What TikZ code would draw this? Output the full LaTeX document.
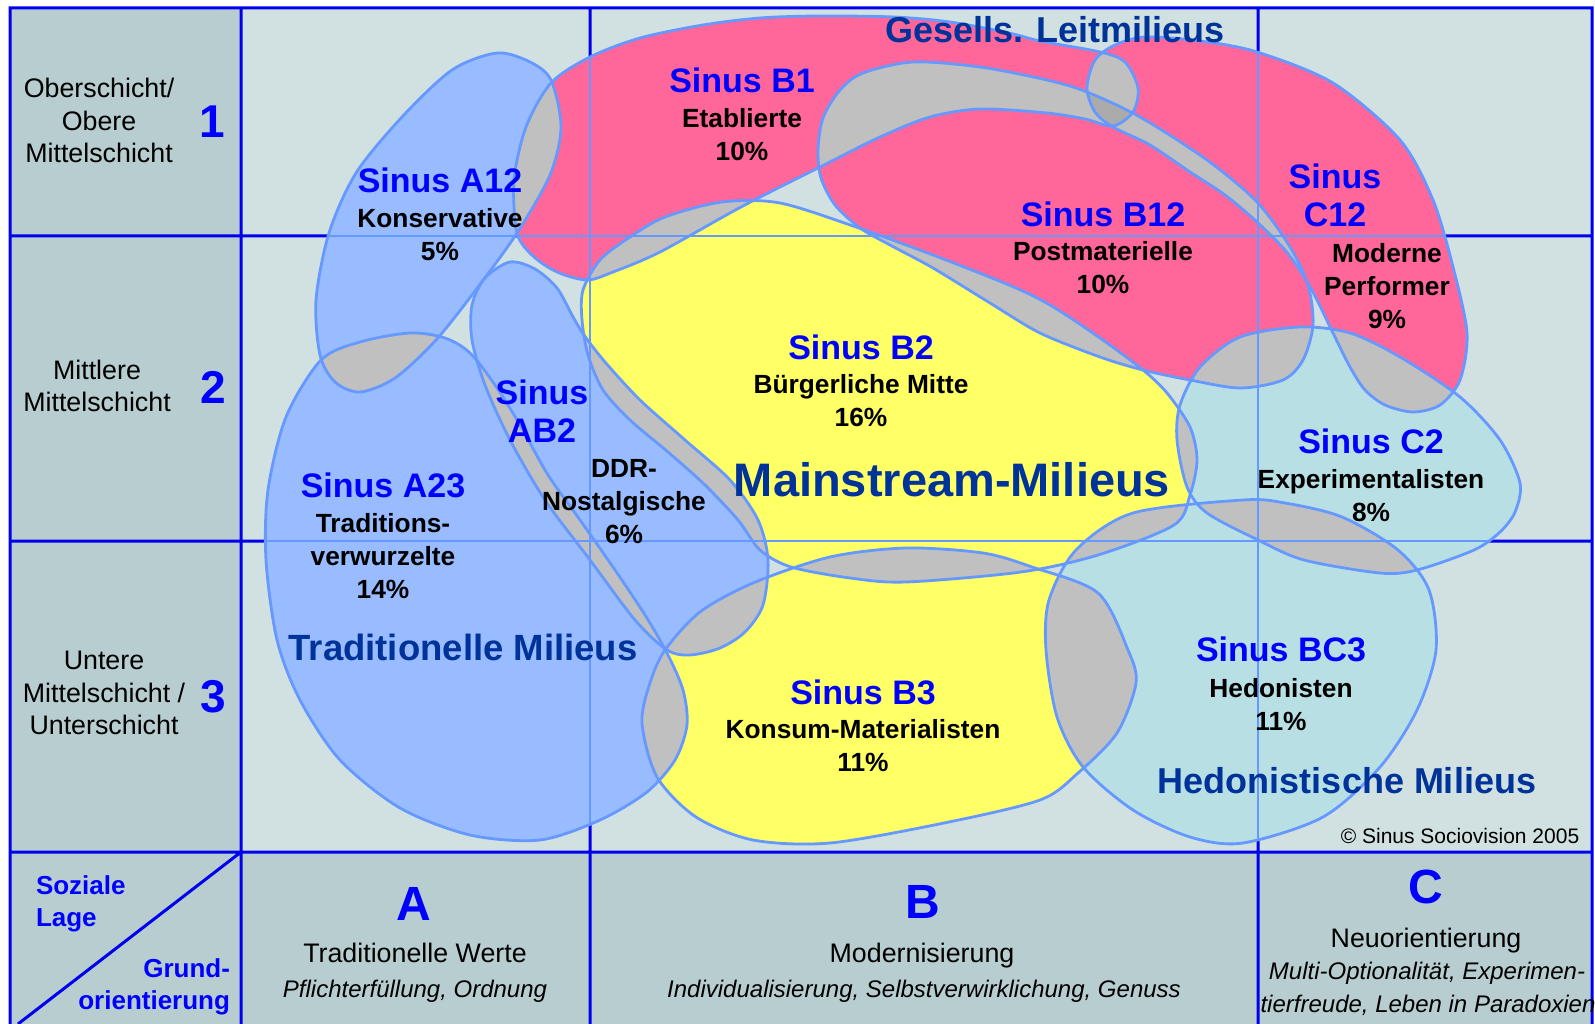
\documentclass[tikz,border=0pt]{standalone}
\usepackage{fontspec}
\setmainfont{Liberation Sans}
\usepackage{xcolor}
\usepackage{tikz}
\usetikzlibrary{positioning}

\definecolor{panelbg}{HTML}{D1E0E0}
\definecolor{sidebg}{HTML}{B8CDD0}
\definecolor{leitpink}{HTML}{FF6699}
\definecolor{tradblue}{HTML}{99BBFF}
\definecolor{mitteyellow}{HTML}{FFFF66}
\definecolor{hedocyan}{HTML}{B8E0E4}
\definecolor{overlapgray}{HTML}{C0C0C0}
\definecolor{tripelgray}{HTML}{ABABAB}
\definecolor{rimblue}{HTML}{6699FF}
\definecolor{ruleblue}{HTML}{0000EE}
\definecolor{sinusblue}{HTML}{0000FF}
\definecolor{groupblue}{HTML}{003399}

\def\pathKons{plot[smooth cycle] coordinates {(497,53) (530,62) (551,80) (561,127) (550,175) (517,233) (478,287) (436,340) (395,378) (360,392) (335,382) (320,355) (316,300) (329,233) (356,173) (402,117) (452,70)}}
\def\pathEtab{plot[smooth cycle] coordinates {(517,233) (533,256) (557,272) (587,280) (613,272) (660,252) (741,207) (818,168) (880,137) (930,117) (980,109) (1047,113) (1085,119) (1113,126) (1133,112) (1138,88) (1125,62) (1100,52) (1040,41) (1009,33) (950,22) (894,17) (818,16) (760,18) (703,25) (640,38) (590,57) (551,83) (526,127) (514,180)}}
\def\pathPerf{plot[smooth cycle] coordinates {(1087,88) (1095,60) (1115,45) (1145,37) (1200,41) (1257,52) (1333,83) (1400,140) (1433,200) (1453,267) (1467,333) (1460,380) (1440,405) (1413,412) (1385,405) (1365,390) (1350,367) (1333,333) (1317,300) (1303,275) (1285,250) (1257,222) (1225,195) (1190,172) (1150,145) (1113,127) (1095,112)}}
\def\pathPost{plot[smooth cycle] coordinates {(818,150) (823,118) (840,90) (863,73) (913,62) (980,67) (1047,80) (1087,92) (1140,117) (1207,160) (1257,202) (1290,247) (1308,285) (1313,325) (1303,360) (1283,380) (1240,388) (1190,380) (1143,370) (1100,357) (1040,333) (990,303) (933,268) (890,245) (860,228) (835,205) (821,178)}}
\def\pathMitte{plot[smooth cycle] coordinates {(583,290) (600,260) (630,237) (665,217) (722,202) (780,203) (856,227) (933,255) (1009,285) (1050,305) (1100,338) (1143,370) (1167,393) (1190,427) (1197,460) (1190,495) (1174,525) (1098,555) (1021,572) (906,582) (850,578) (791,567) (760,550) (738,520) (705,485) (668,452) (630,420) (603,390) (588,355) (582,320)}}
\def\pathDDR{plot[smooth cycle] coordinates {(510,262) (535,269) (557,288) (572,315) (584,335) (605,362) (640,400) (685,440) (730,480) (758,520) (768,560) (763,605) (745,632) (720,648) (690,655) (667,650) (635,620) (590,560) (545,500) (510,440) (485,385) (472,340) (472,305) (485,278)}}
\def\pathTrad{plot[smooth cycle] coordinates {(321,360) (360,342) (410,333) (445,338) (470,353) (495,385) (520,425) (548,475) (580,520) (615,570) (645,615) (667,653) (683,690) (687,725) (675,760) (647,792) (600,820) (540,840) (470,835) (400,808) (340,760) (300,700) (277,640) (266,560) (268,490) (286,417)}}
\def\pathKonsum{plot[smooth cycle] coordinates {(665,650) (700,612) (753,583) (830,557) (906,548) (983,553) (1032,567) (1098,593) (1128,650) (1136,683) (1117,733) (1078,773) (1040,800) (944,823) (830,843) (753,840) (696,817) (657,777) (642,723) (650,683)}}
\def\pathExp{plot[smooth cycle] coordinates {(1300,327) (1350,333) (1400,357) (1460,397) (1500,440) (1520,483) (1515,512) (1500,532) (1474,550) (1417,570) (1380,573) (1304,560) (1258,540) (1207,513) (1187,487) (1177,440) (1180,405) (1200,367) (1240,337)}}
\def\pathHed{plot[smooth cycle] coordinates {(1243,500) (1285,503) (1342,517) (1398,550) (1429,590) (1436,650) (1417,710) (1380,767) (1323,817) (1243,843) (1190,837) (1133,810) (1083,767) (1057,717) (1046,650) (1049,600) (1076,550) (1133,513)}}

\begin{document}
\begin{tikzpicture}[x=1pt, y=-1pt,
    every node/.style={inner sep=0pt, outer sep=0pt},
    milieu/.style={draw=rimblue, line width=2.8pt},
    gridline/.style={draw=ruleblue, line width=3pt},
    gridfine/.style={draw=rimblue, line width=1.4pt},
    milname/.style={font=\fontsize{34}{38}\selectfont\bfseries, text=sinusblue, align=center, anchor=south},
    miltext/.style={font=\fontsize{26.3}{33}\selectfont\bfseries, align=center, anchor=north},
    milgroup/.style={font=\fontsize{36}{40}\selectfont\bfseries, text=groupblue, anchor=base},
    schicht/.style={font=\fontsize{26.8}{32.5}\selectfont, align=center, anchor=south},
    axisletter/.style={font=\fontsize{48}{48}\selectfont\bfseries, text=sinusblue, anchor=base},
    werte/.style={font=\fontsize{26.8}{26.8}\selectfont, anchor=base},
    detail/.style={font=\fontsize{24}{24}\selectfont\itshape, anchor=base}]

    \useasboundingbox (0,0) rectangle (1595,1024);
    \fill [sidebg] (10,8) rectangle (1592,1024);
    \fill [panelbg] (241,8) rectangle (1592,852);
    \draw [gridline] (10,1024) -- (10,8) -- (1592,8) -- (1592,1024)
        (241,8) -- (241,1024) (590,8) -- (590,1024) (1258,8) -- (1258,1024)
        (10,236) -- (1592,236) (10,541) -- (1592,541) (10,852) -- (1592,852)
        (241,852) -- (18,1024);

    \foreach \blob/\colour in {\pathKons/tradblue, \pathTrad/tradblue, \pathDDR/tradblue, \pathEtab/leitpink, \pathPost/leitpink, \pathPerf/leitpink, \pathMitte/mitteyellow, \pathKonsum/mitteyellow, \pathExp/hedocyan, \pathHed/hedocyan}
        \fill [fill=\colour] \blob;

    \foreach \one/\two in {\pathKons/\pathEtab, \pathKons/\pathTrad, \pathEtab/\pathPost, \pathEtab/\pathPerf, \pathEtab/\pathMitte, \pathPost/\pathPerf, \pathPost/\pathMitte, \pathPost/\pathExp, \pathPerf/\pathExp, \pathMitte/\pathDDR, \pathMitte/\pathExp, \pathMitte/\pathKonsum, \pathMitte/\pathHed, \pathDDR/\pathTrad, \pathDDR/\pathKonsum, \pathTrad/\pathKonsum, \pathExp/\pathHed, \pathKonsum/\pathHed}
    {
        \begin{scope}
            \clip \one;
            \fill [overlapgray] \two;
        \end{scope}
    }
    \begin{scope}
        \clip \pathEtab;
        \clip \pathPost;
        \fill [tripelgray] \pathPerf;
    \end{scope}

    \foreach \blob in {\pathKons, \pathTrad, \pathDDR, \pathEtab, \pathPost, \pathPerf, \pathMitte, \pathKonsum, \pathExp, \pathHed}
    {
        \begin{scope}
            \clip \blob;
            \draw [gridfine] (590,8) -- (590,852) (1258,8) -- (1258,852) (241,236) -- (1592,236) (241,541) -- (1592,541);
        \end{scope}
    }
    \foreach \blob in {\pathKons, \pathTrad, \pathDDR, \pathEtab, \pathPost, \pathPerf, \pathMitte, \pathKonsum, \pathExp, \pathHed}
        \draw [milieu] \blob;

    \node [milgroup] (Leit) at (1055,43) {Gesells. Leitmilieus};
    \node [milgroup, font=\fontsize{47}{47}\selectfont\bfseries] (Mainstream) at (952,496) {Mainstream-Milieus};
    \node [milgroup, font=\fontsize{36.5}{40}\selectfont\bfseries] (Traditionell) at (463,660) {Traditionelle Milieus};
    \node [milgroup] (Hedonistisch) at (1347,793) {Hedonistische Milieus};

    \node [milname] (A12) at (440,193) {Sinus A12};
    \node [miltext, below=15pt of A12] (A12text) {Konservative\\5\%};
    \node [milname] (B1) at (742,93) {Sinus B1};
    \node [miltext, below=15pt of B1] (B1text) {Etablierte\\10\%};
    \node [milname] (B12) at (1103,227) {Sinus B12};
    \node [miltext, below=14pt of B12] (B12text) {Postmaterielle\\10\%};
    \node [milname] (C12) at (1335,227) {Sinus\\C12};
    \node [miltext] (C12text) at (1387,243) {Moderne\\Performer\\9\%};
    \node [milname] (B2) at (861,360) {Sinus B2};
    \node [miltext, below=14pt of B2] (B2text) {Bürgerliche Mitte\\16\%};
    \node [milname] (AB2) at (542,442) {Sinus\\AB2};
    \node [miltext] (AB2text) at (624,459) {DDR-\\Nostalgische\\6\%};
    \node [milname] (A23) at (383,498) {Sinus A23};
    \node [miltext, below=15pt of A23] (A23text) {Traditions-\\verwurzelte\\14\%};
    \node [milname] (B3) at (863,705) {Sinus B3};
    \node [miltext, below=14pt of B3] (B3text) {Konsum-Materialisten\\11\%};
    \node [milname] (C2) at (1371,454) {Sinus C2};
    \node [miltext, below=15pt of C2] (C2text) {Experimentalisten\\8\%};
    \node [milname] (BC3) at (1281,662) {Sinus BC3};
    \node [miltext, below=16pt of BC3] (BC3text) {Hedonisten\\11\%};
    \node [font=\fontsize{21}{21}\selectfont, anchor=base] (Copyright) at (1460,843) {© Sinus Sociovision 2005};

    \node [schicht] (Oben) at (99,163) {Oberschicht/\\Obere\\Mittelschicht};
    \node [axisletter, font=\fontsize{46}{46}\selectfont\bfseries] (Eins) at (212,138) {1};
    \node [schicht] (Mitte) at (97,412) {Mittlere\\Mittelschicht};
    \node [axisletter, font=\fontsize{46}{46}\selectfont\bfseries] (Zwei) at (213,403) {2};
    \node [schicht] (Unten) at (104,735) {Untere\\Mittelschicht /\\Unterschicht};
    \node [axisletter, font=\fontsize{46}{46}\selectfont\bfseries] (Drei) at (213,712) {3};

    \node [font=\fontsize{26}{32}\selectfont\bfseries, text=sinusblue, align=left, anchor=north west] (Lage) at (36,876) {Soziale\\Lage};
    \node [font=\fontsize{26}{32}\selectfont\bfseries, text=sinusblue, align=right, anchor=north east] (Grund) at (230,959) {Grund-\\orientierung};

    \node [axisletter] (ColA) at (414,920) {A};
    \node [werte] (WerteA) at (415,962) {Traditionelle Werte};
    \node [detail] (DetailA) at (415,997) {Pflichterfüllung, Ordnung};
    \node [axisletter] (ColB) at (923,918) {B};
    \node [werte] (WerteB) at (922,962) {Modernisierung};
    \node [detail] (DetailB) at (924,997) {Individualisierung, Selbstverwirklichung, Genuss};
    \node [axisletter] (ColC) at (1426,903) {C};
    \node [werte] (WerteC) at (1426,947) {Neuorientierung};
    \node [detail] (DetailC) at (1427,979) {Multi-Optionalität, Experimen-};
    \node [detail] (DetailCb) at (1428,1012) {tierfreude, Leben in Paradoxien};
\end{tikzpicture}
\end{document}
